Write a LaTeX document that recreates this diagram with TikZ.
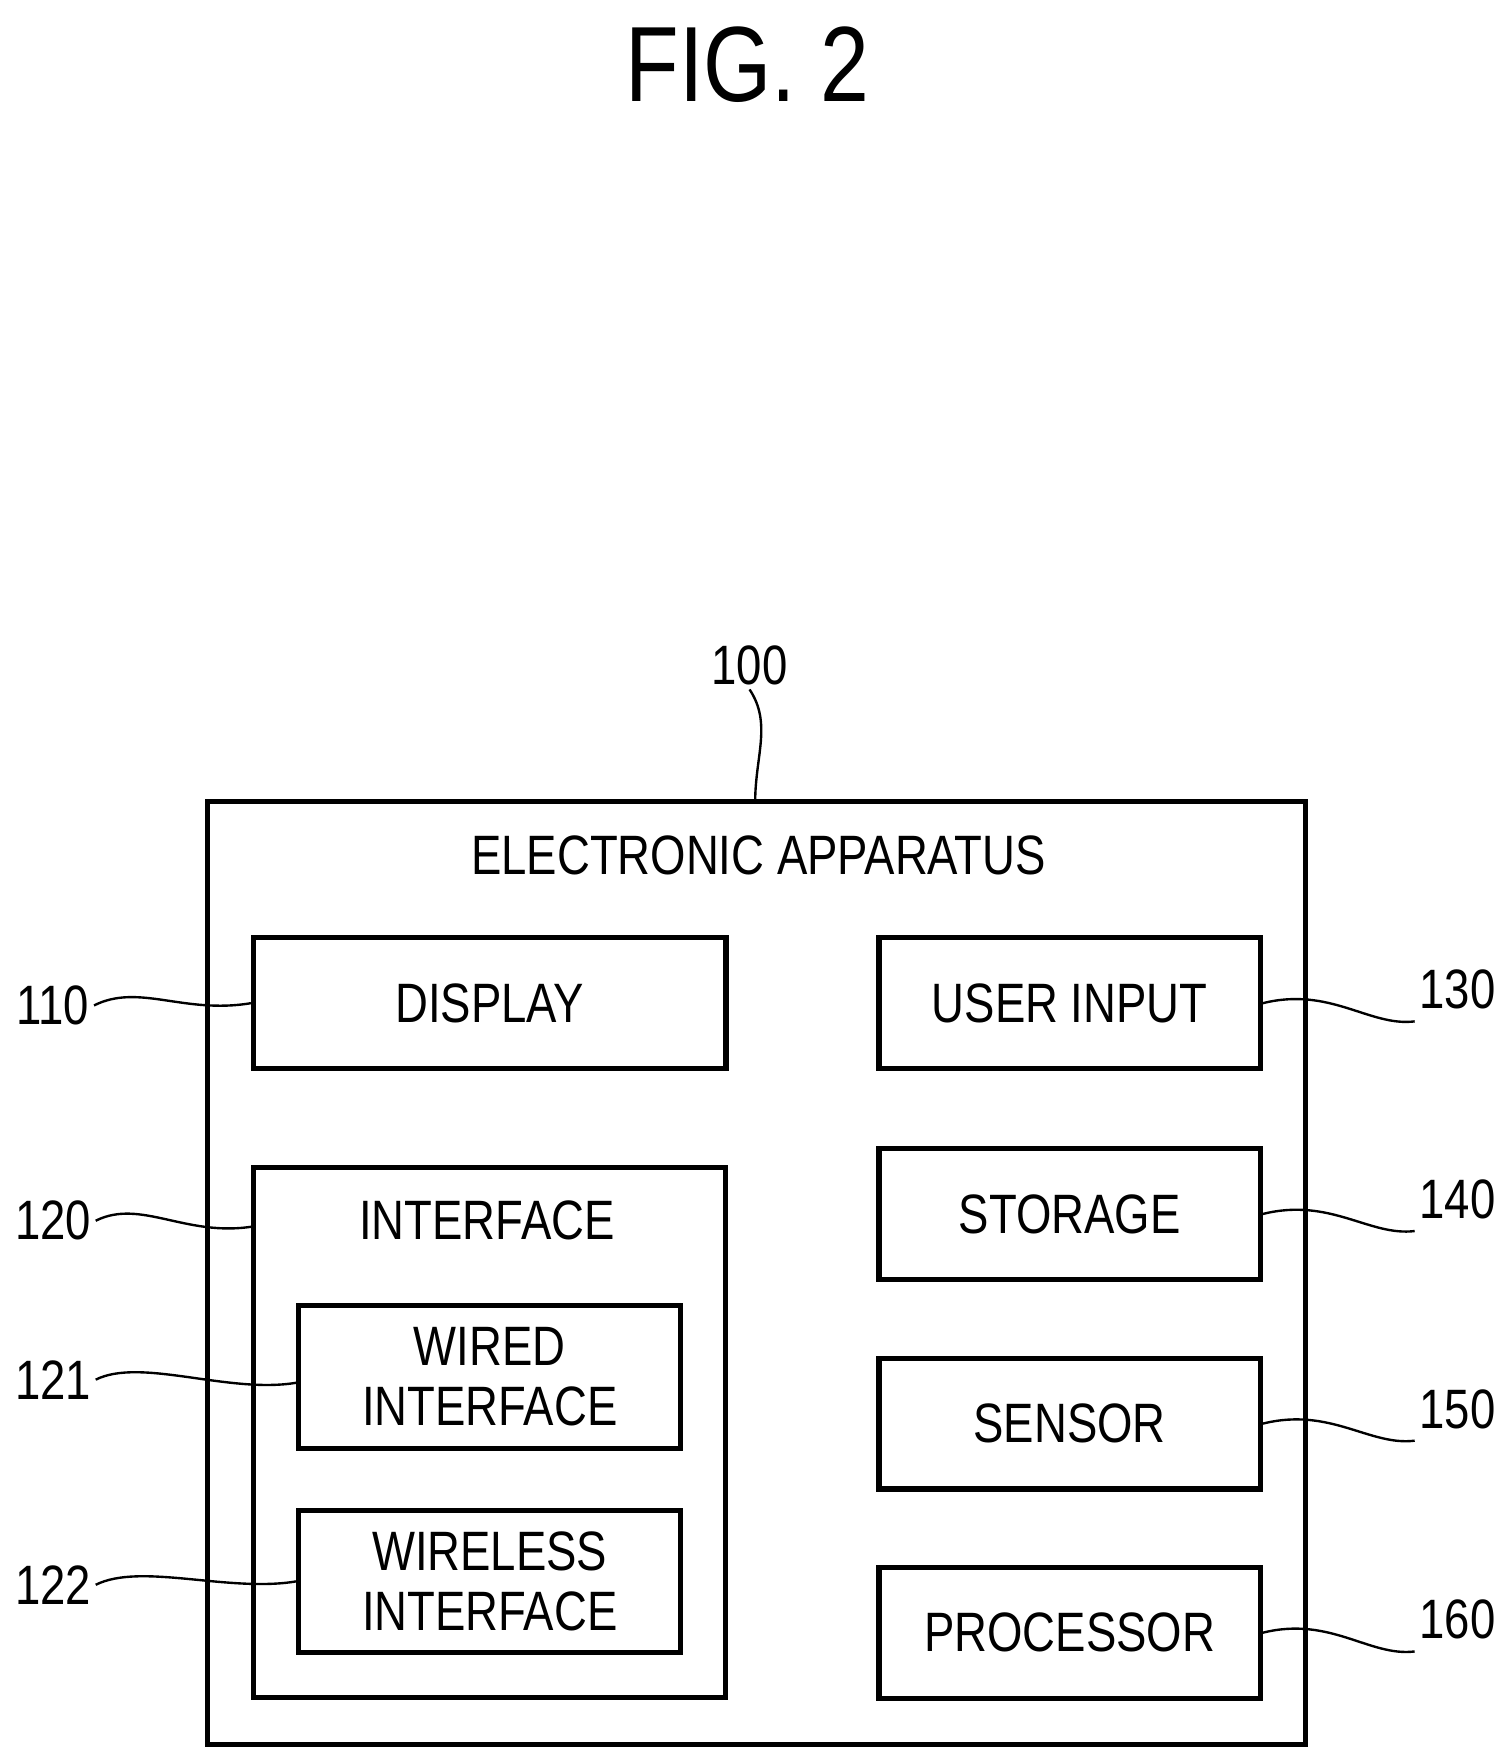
\documentclass[tikz,border=0pt]{standalone}
\usepackage{fontspec}
\setmainfont{Liberation Sans}
\newcommand{\nrw}[1]{\scalebox{0.82}[1]{#1}}
\begin{document}
\begin{tikzpicture}[x=0.01cm,y=-0.01cm,
  box/.style={draw,line width=1.3pt,minimum height=1.16cm,align=center,inner sep=0pt,font=\fontsize{14}{17}\selectfont},
  lbl/.style={font=\fontsize{14}{17}\selectfont,inner sep=1pt},
  lead/.style={line width=0.6pt}]
\useasboundingbox (0,0) rectangle (1340,1565);
\node[font=\fontsize{27}{30}\selectfont] (fig) at (663,57) {\nrw{FIG. 2}};
\draw[line width=1.3pt] (184,711) rectangle (1158,1548);
\coordinate (top) at (670,711);
\node[lbl] (n100) at (665,590) {\nrw{100}};
\node[font=\fontsize{14}{17}\selectfont] (ea) at (673,759) {\nrw{ELECTRONIC APPARATUS}};
\node[box,minimum width=4.19cm] (disp) at (434.5,890) {\nrw{DISPLAY}};
\draw[line width=1.3pt] (225,1036) rectangle (644,1506);
\coordinate (intf) at (225,1088);
\node[font=\fontsize{14}{17}\selectfont] (intlbl) at (432,1083) {\nrw{INTERFACE}};
\node[box,minimum width=3.39cm,minimum height=1.27cm] (wired) at (434.5,1221.5) {\nrw{WIRED}\\[-2pt]\nrw{INTERFACE}};
\node[box,minimum width=3.39cm,minimum height=1.26cm] (wless) at (434.5,1403) {\nrw{WIRELESS}\\[-2pt]\nrw{INTERFACE}};
\node[box,minimum width=3.38cm] (uin) at (949,890) {\nrw{USER INPUT}};
\node[box,minimum width=3.38cm] (sto) at (949,1077) {\nrw{STORAGE}};
\node[box,minimum width=3.38cm] (sen) at (949,1263) {\nrw{SENSOR}};
\node[box,minimum width=3.38cm] (pro) at (949,1448.5) {\nrw{PROCESSOR}};
\node[lbl] (n110) at (47,892) {\nrw{110}};
\node[lbl] (n120) at (47,1083) {\nrw{120}};
\node[lbl] (n121) at (47,1224) {\nrw{121}};
\node[lbl] (n122) at (47,1406) {\nrw{122}};
\node[lbl] (n130) at (1293,878) {\nrw{130}};
\node[lbl] (n140) at (1293,1064) {\nrw{140}};
\node[lbl] (n150) at (1293,1250) {\nrw{150}};
\node[lbl] (n160) at (1293,1437) {\nrw{160}};
\draw[lead] (n100.south) .. controls +(20,30) and +(0,-40) .. (top);
\draw[lead] (n110.east) .. controls +(40,-20) and +(-60,10) .. (disp.west);
\draw[lead] (n120.east) .. controls +(40,-20) and +(-60,10) .. (intf);
\draw[lead] (n121.east) .. controls +(40,-20) and +(-60,10) .. ([yshift=-1.5pt]wired.west);
\draw[lead] (n122.east) .. controls +(40,-20) and +(-60,10) .. (wless.west);
\draw[lead] (uin.east) .. controls +(60,-15) and +(-40,5) .. ([yshift=-8pt]n130.west);
\draw[lead] (sto.east) .. controls +(60,-15) and +(-40,5) .. ([yshift=-8pt]n140.west);
\draw[lead] (sen.east) .. controls +(60,-15) and +(-40,5) .. ([yshift=-8pt]n150.west);
\draw[lead] (pro.east) .. controls +(60,-15) and +(-40,5) .. ([yshift=-8pt]n160.west);
\end{tikzpicture}
\end{document}
